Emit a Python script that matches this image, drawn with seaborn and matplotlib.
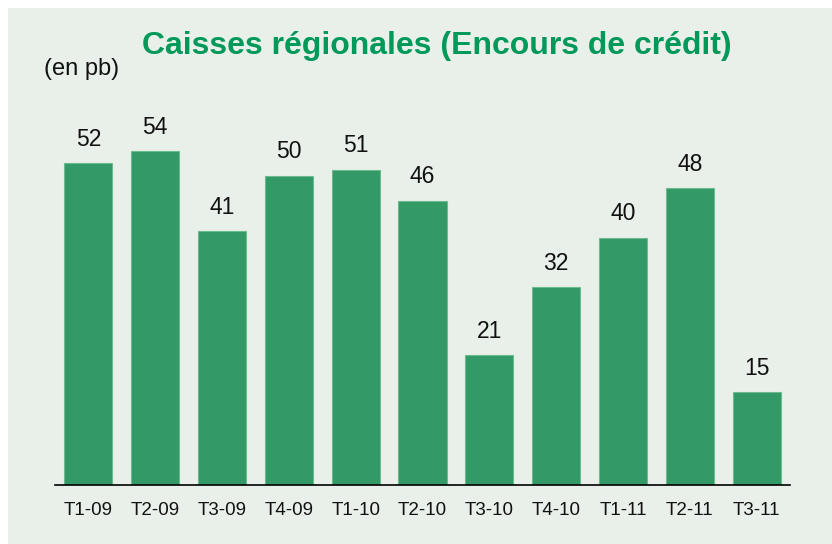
import matplotlib.pyplot as plt
import matplotlib.patches as patches
import pandas as pd
import seaborn as sns

# données
periodes = ["T1-09", "T2-09", "T3-09", "T4-09", "T1-10", "T2-10",
            "T3-10", "T4-10", "T1-11", "T2-11", "T3-11"]
valeurs = [52, 54, 41, 50, 51, 46, 21, 32, 40, 48, 15]

df = pd.DataFrame({"periode": periodes, "valeur": valeurs})

sns.set_style("white")
plt.rcParams['font.family'] = ['Liberation Sans', 'DejaVu Sans']

fig = plt.figure(figsize=(8.32, 5.44), dpi=100, facecolor="white")
# fond vert pâle
fig.patches.append(patches.Rectangle((8 / 832, 0), 1, 1 - 8 / 544,
                                     transform=fig.transFigure,
                                     facecolor="#e9f0ea", edgecolor="none", zorder=-1))

ax = fig.add_axes([55 / 832, 59 / 544, 735 / 832, 0.682])
ax.set_zorder(2)
sns.barplot(data=df, x="periode", y="valeur", color="#339966",
            saturation=1, width=0.72, edgecolor="#6cbb8e", linewidth=0.8, ax=ax)
ax.set_facecolor("none")
ax.set_xlim(-0.5, 10.5)
ax.set_ylim(0, 60)

for i, v in enumerate(valeurs):
    ax.annotate(str(v), (i, v), xytext=(0, 9), textcoords="offset points",
                ha="center", va="bottom", fontsize=16.5, color="#111111")

ax.set_xlabel("")
ax.set_ylabel("")
ax.set_yticks([])
ax.tick_params(axis="x", length=0, labelsize=13.5, pad=12, labelcolor="#111111")
for s in ["top", "right", "left"]:
    ax.spines[s].set_visible(False)
ax.spines["bottom"].set_color("black")
ax.spines["bottom"].set_linewidth(1.2)

fig.text(437 / 832, 1 - 46 / 544, "Caisses régionales (Encours de crédit)",
         ha="center", va="center", fontsize=23, fontweight="bold", color="#009959")
fig.text(82 / 832, 1 - 69 / 544, "(en pb)", ha="center", va="center",
         fontsize=17, color="#111111")

fig.savefig("out.png", dpi=100, facecolor=fig.get_facecolor())
